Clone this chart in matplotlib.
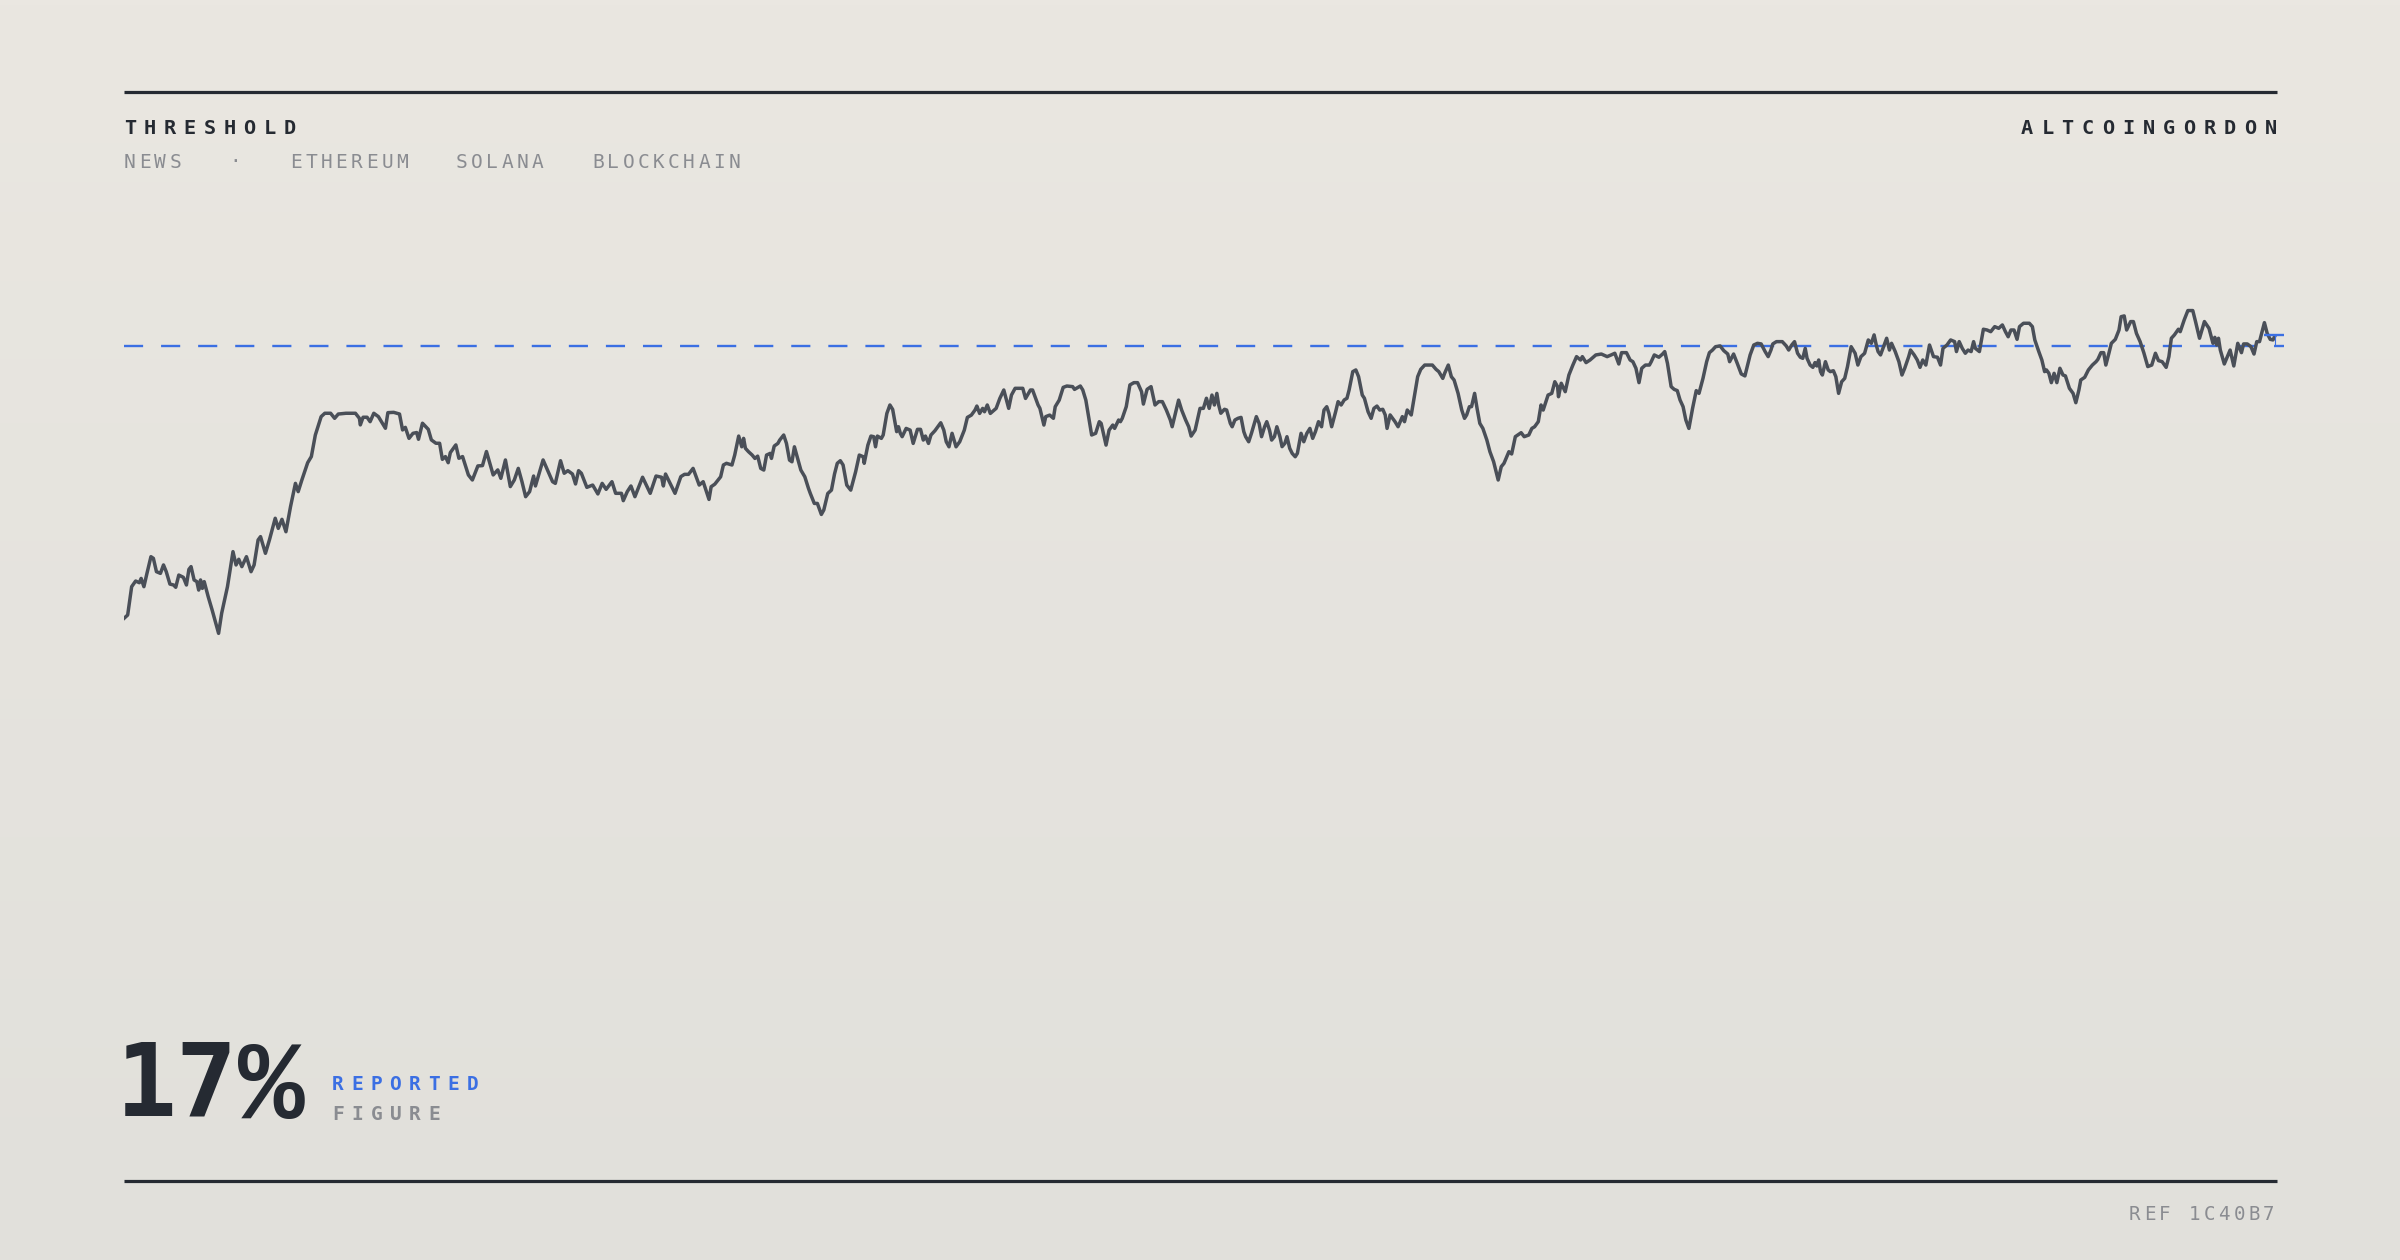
#!/usr/bin/env python3
import numpy as np
import matplotlib
matplotlib.use("Agg")
import matplotlib.pyplot as plt
from matplotlib.lines import Line2D


W, H, DPI = 2400, 1260, 200

INK = "#252a32"
LINE = "#4a4f58"
BLUE = "#3b6fe3"
GREY = "#8a8c91"
BG_TOP = "#eae7e1"
BG_BOTTOM = "#e1e0db"
MONO = ["DejaVu Sans Mono"]

# index level per day in four stretches
early_rise = [
    (0, 56), (1.2, 58.2), (2.5, 76.7), (3.8, 80.4), (5, 79.3), (5.6, 82.1), (6.5, 76.7),
    (7.5, 85.4), (8.8, 96.3), (9.6, 95.2), (10.6, 86.5), (11.9, 85.4), (12.9, 90.9),
    (13.8, 86.5), (15, 78.4), (16.2, 77.8), (16.9, 76.3), (17.9, 84.3), (19.4, 82.8),
    (20.4, 77.8), (21.2, 88), (21.9, 89.8), (22.9, 81.1), (23.8, 80), (24.4, 74.5),
    (25, 81.1), (25.6, 75.6), (26.2, 80), (27.5, 70.2), (28.8, 61.4), (30, 52.7),
    (30.9, 46.2), (31.9, 59.3), (33.8, 76.7), (35.6, 99.6), (36.6, 90.9), (37.5, 94.6),
    (38.5, 89.8), (40, 96.3), (41.5, 86.5), (42.5, 90.9), (43.8, 107.2), (44.6, 109.4),
    (46.2, 98.5), (47.5, 107.2), (49.4, 121.4), (50.4, 114.8), (51.6, 120.7), (52.9, 112.6),
    (54.4, 129), (56, 144.2), (56.9, 138.8), (58.1, 146.4), (60, 157.7), (61.2, 161.7),
    (62.5, 175.8), (64.4, 187.8), (65.6, 190), (67.5, 190), (68.8, 186.7), (70, 189.5),
    (72.5, 190), (75.6, 190), (76.9, 186.7), (77.2, 182.4), (78.1, 187.4), (79.4, 187.4),
    (80.4, 184.5), (81.6, 190), (83.1, 187.8), (85.4, 180.2), (86.2, 190.4), (88.1, 190.6),
    (90, 189.5), (91, 179.1), (91.9, 180.8), (93.1, 173.6), (94.4, 176.9), (95.6, 177.4),
    (96.2, 173), (97.5, 183.5), (99.4, 179.5), (100.4, 172.6), (101.9, 170.4), (103.1, 170.4),
    (104, 159.9), (105, 161.7), (105.9, 157.7), (106.6, 164.3), (108.4, 169.3), (109.4, 160.6),
    (110.6, 161.7), (112.5, 149.7), (113.8, 146.4), (115.6, 155.6), (117.1, 155.8),
    (118.4, 165), (120.6, 149.7), (122.1, 153), (123.1, 147.5), (124.6, 159.5), (126.2, 142.1),
    (127.5, 146.4), (128.8, 154), (130, 145.3), (131.2, 135.5), (132.5, 138.8), (133.8, 149),
    (134.4, 142.5), (136.9, 159.5), (138.1, 154), (140, 145.3), (140.9, 144.2), (142.6, 159),
    (143.8, 150.8), (145, 152.5), (146.5, 150.3), (147.5, 143.8), (148.5, 152.5),
    (149.4, 150.8), (151.2, 141.6), (153.1, 143.1), (154.8, 137.3), (156.2, 144.2),
    (157.5, 140.3), (159.4, 145.3), (160.6, 137.7), (162.5, 137.7), (163.1, 132.9),
    (164.4, 138.8), (165.6, 142.5), (166.9, 135.5), (169.4, 148.2), (171.9, 137.7),
    (173.8, 149), (175.6, 148.2), (176.2, 142.5), (176.9, 150.3), (178.4, 144.2), (180, 137.7),
    (181.9, 148.6), (183.1, 150.1), (184.4, 150.1), (185.9, 154), (187.9, 143.1),
]

mid_range = [
    (189.2, 145.3), (191.1, 133.7), (191.8, 142), (193, 143.7), (194.9, 148.5), (195.8, 156.2),
    (196.8, 157.3), (198.6, 156.2), (199.5, 162.7), (200.8, 175.1), (201.8, 168.1),
    (202.4, 173.6), (203, 167.1), (204, 164.9), (205.2, 162.7), (206.1, 160.5), (207, 162),
    (208, 154), (209, 152.9), (209.9, 162.7), (211.1, 163.8), (211.5, 160.5), (212.4, 168.6),
    (213.6, 170.3), (214.2, 172.5), (215.5, 175.8), (216.4, 170.3), (217.4, 159.4),
    (218.2, 158.3), (219, 168.1), (219.9, 161.6), (221.1, 152.9), (222.4, 148.5),
    (223.6, 140.9), (224.2, 137.6), (225.5, 131.1), (226.5, 131.1), (227.8, 123.9),
    (228.6, 126.8), (229.9, 137.6), (231.1, 139.8), (232.1, 150.3), (233, 157.3), (234, 159),
    (234.9, 156.2), (236.1, 143.1), (237.4, 139.8), (239, 151.8), (240.2, 162.7),
    (241.5, 161.6), (241.8, 157.3), (243, 169.2), (244, 175.1), (244.9, 174.7), (245.5, 168.1),
    (246.1, 175.1), (247.4, 173.6), (248, 175.8), (249.2, 189.9), (250.2, 195.4),
    (251.1, 192.5), (252.4, 178), (253, 181.2), (253.6, 176.9), (254.2, 174.7), (255.5, 180.1),
    (256.8, 179), (257.8, 170.3), (259.2, 179.5), (260.2, 179.5), (261.1, 172.5),
    (261.8, 175.1), (262.8, 170.3), (263.6, 175.8), (264.9, 178.6), (266.8, 183.8),
    (267.8, 179), (268.6, 171.4), (269.5, 168.1), (270.5, 176.9), (271.8, 168.1),
    (273, 171.4), (274.5, 179), (275.5, 187.3), (276.8, 188.8), (278, 192.1), (278.6, 194.7),
    (279.5, 189.9), (280.5, 193.2), (281.1, 191), (282, 195.4), (283, 189.9), (284.9, 193.2),
    (286.1, 199.7), (287.4, 205.2), (289, 193.2), (289.9, 201.9), (291.1, 206.3),
    (293.6, 206.3), (294.5, 199.7), (296.1, 205.2), (296.8, 205.2), (298.6, 195.4),
    (299.2, 193.2), (300.5, 182.3), (301.1, 187.8), (302.4, 188.8), (303.6, 186.7),
    (304.2, 194.3), (305.5, 198.6), (306.8, 206.9), (308, 207.8), (309.9, 207.4),
    (310.5, 205.6), (312.4, 207.8), (313.2, 205.2), (314.2, 198.6), (316.1, 175.8),
    (317.4, 176.9), (318.6, 184.5), (319.2, 183.4), (320.8, 169.2), (321.8, 179), (323, 182.3),
    (323.6, 180.1), (324.9, 185.6), (325.5, 184.5), (326.1, 186.7), (327.4, 194.3),
    (328.6, 208.5), (329.9, 210), (331.1, 210), (332.4, 204.1), (333, 196), (334.2, 205.6),
    (335.5, 207.4), (336.1, 201.9), (336.8, 195.4), (338, 197.6), (339.2, 197.6),
    (340.5, 192.1), (341.8, 185.6), (342.4, 181.2), (343.6, 191), (344.5, 198.6),
    (345.5, 192.1), (346.8, 185.6), (347.8, 181.2), (348.6, 175.1), (349.9, 179),
    (351.5, 193.2),
]

recovery = [
    (352.6, 193.2), (353.6, 199.8), (354.5, 193.2), (355.4, 201.9), (356.2, 195.4), (357, 203),
    (357.6, 195.4), (358.3, 190), (359.5, 192.6), (360.2, 192.1), (361.4, 183.4), (362, 181.2),
    (362.9, 185.6), (363.9, 186.7), (364.9, 187.3), (365.8, 178), (366.4, 174.7),
    (367.4, 171.4), (368.3, 176.9), (369.9, 187.8), (370.8, 183.4), (371.6, 174.7),
    (372.6, 181.2), (373.3, 184.5), (374.2, 179), (374.9, 172.5), (375.8, 174.7),
    (376.6, 181.2), (377.6, 174.7), (378.3, 168.2), (379.2, 170.3), (379.9, 174.7),
    (380.8, 167.1), (381.6, 163.8), (382.6, 161.6), (383.3, 163.8), (384.5, 176.9),
    (385.4, 171.4), (386.4, 176.9), (387.4, 180.1), (388.3, 173.6), (389.2, 178),
    (390.2, 184.5), (391.2, 181.2), (392, 192.1), (392.9, 194.3), (393.6, 190), (394.5, 181.2),
    (395.8, 191), (396.6, 197.6), (397.6, 195.4), (398.6, 198.7), (399.5, 199.8),
    (400.2, 205.2), (401.4, 217.2), (402.4, 218.3), (403.3, 213.9), (404.5, 201.9),
    (405.2, 199.8), (406.4, 191), (407.4, 186.7), (408.3, 193.2), (409.3, 194.7),
    (410.2, 192.1), (411.2, 192.6), (412, 188.9), (412.6, 180.1), (413.6, 188.9),
    (415.2, 184.5), (416.2, 181.2), (417.6, 187.8), (418.3, 184.5), (419.2, 192.1),
    (420.5, 188.9), (421.4, 199.8), (422.6, 213.9), (423.6, 218.7), (424.9, 221.5),
    (427.4, 221.5), (428.6, 218.7), (429.5, 217.2), (430.8, 212.8), (431.4, 216.1),
    (432.6, 221.5), (433.6, 213.9), (434.5, 211.7), (435.8, 203), (437, 192.1), (437.9, 186.7),
    (438.6, 188.9), (439.5, 194.3), (440.2, 194.3), (441.2, 203), (442, 193.2), (442.9, 183.4),
    (443.9, 180.1), (445.2, 172.5), (446.2, 164.9), (447.4, 158.4), (448.9, 146.4),
    (449.9, 155.1), (450.8, 157.3), (452.4, 164.9), (453.3, 163.4), (454.5, 174.7),
    (456.4, 177.3), (457.4, 174.7), (458.9, 175.8), (459.9, 180.1), (460.8, 181.2),
    (462, 184.5), (462.9, 195.4), (463.6, 192.1), (465.2, 201.9), (466.4, 203), (467.4, 210.6),
    (468.3, 207.4), (468.6, 200.8), (469.5, 209.6), (470.8, 204.1), (472, 215), (473.3, 221.5),
    (474.5, 227), (475.8, 224.8), (476.4, 227), (477.6, 223.1), (478.9, 224.8), (480.8, 228.1),
    (482.6, 228.7), (484.5, 227), (485.8, 228.1), (487, 229.2), (488.3, 222.2), (489.2, 229.6),
    (490.8, 229.6), (492, 224.8), (492.9, 223.7), (493.9, 219.4), (494.9, 210), (495.8, 219.4),
    (497, 221.5), (498.3, 221.5), (498.9, 223.7), (499.9, 228.1), (501.4, 226.6),
    (502.6, 228.7), (503.3, 230.3), (504.2, 222.6), (505.4, 207.4), (506.4, 205.6),
    (507.4, 204.8), (508.3, 198.7), (509.3, 194.3), (510.2, 185.6), (511.2, 180.1),
    (512.4, 193.2), (513.6, 204.8), (514.5, 203), (515.8, 212.8), (517, 223.7), (517.9, 229.6),
    (518.9, 231.3), (519.9, 233.5), (521.4, 234), (522.6, 230.9), (523.9, 228.7),
    (524.5, 223.7), (525.8, 228.7), (527, 222.6), (528.3, 215.7), (529.5, 214.4),
    (531.2, 228.1),
]

late_range = [
    (532.4, 234.6), (533.6, 235.7), (534.8, 235.3), (536.1, 230.3), (537.1, 227), (538, 231.3),
    (538.6, 235.3), (539.8, 236.8), (541.7, 236.8), (543, 234), (543.8, 231.3), (544.8, 234.6),
    (545.7, 236.8), (546.7, 229.2), (547.6, 226.6), (548.4, 225.9), (549.2, 232.4),
    (549.8, 225.9), (550.8, 221.5), (551.7, 220), (552.4, 223.1), (553, 220.9), (553.6, 224.8),
    (554.2, 217.2), (554.8, 215), (555.8, 223.7), (556.7, 218.3), (557.4, 217.2),
    (558.4, 217.8), (559.2, 213.9), (560.1, 203), (561.1, 210.6), (562.1, 212.8), (563, 220.4),
    (564.2, 233.5), (565.5, 229.2), (566.4, 221.5), (567.4, 227), (568.6, 229.2),
    (569.8, 237.9), (570.8, 235.7), (571.7, 241.2), (572.4, 234.6), (573, 230.3),
    (573.8, 228.1), (574.8, 233.5), (575.8, 239), (576.7, 231.3), (577.4, 235.7),
    (578.6, 230.3), (579.8, 223.7), (580.8, 215), (581.7, 219.4), (583, 227), (583.6, 231.3),
    (584.8, 228.1), (585.8, 224.8), (586.7, 220), (587.6, 224.8), (588.6, 221.5),
    (589.8, 234.6), (591.1, 227), (592.4, 226.6), (593.4, 221.5), (594.2, 232.4),
    (595.5, 234.6), (596.7, 237.9), (598, 236.8), (598.6, 230.3), (599.5, 236.8),
    (600.5, 232.4), (601.5, 229.2), (602.4, 231.3), (603.4, 230.3), (604.2, 236.8),
    (604.8, 232.4), (606.1, 230.3), (607.4, 244.9), (608.6, 244.4), (609.8, 243.3),
    (611.1, 246.6), (612.4, 245.5), (613.6, 247.7), (614.6, 243.3), (615.5, 240),
    (616.4, 244.4), (617.4, 244.4), (618.4, 238.3), (619.2, 246.6), (620.5, 248.8),
    (622.4, 248.8), (623.4, 246.6), (624.2, 237.9), (625.5, 230.3), (626.5, 224.8),
    (627.4, 217.2), (628, 218.3), (628.8, 216.1), (629.6, 210), (630.5, 216.1), (631.4, 210),
    (632.4, 219.4), (633.4, 215), (634.2, 214.4), (635.5, 206.3), (636.7, 203), (637.6, 196.9),
    (638.6, 205.2), (639.2, 211.7), (640.5, 213.5), (641.7, 218.3), (643, 221.5),
    (644.2, 223.7), (644.8, 225.2), (645.8, 229.6), (646.7, 229.6), (647.4, 221.5),
    (648.4, 229.2), (649.2, 235.7), (650.5, 238.3), (651.7, 244.4), (652.4, 253.1),
    (653.4, 253.6), (654.2, 244.4), (655.5, 249.9), (656.4, 249.9), (657.4, 242.2),
    (658.6, 236.8), (659.8, 229.6), (661.1, 220.5), (662.4, 221.5), (663.6, 229.2),
    (664.6, 224.4), (665.8, 223.7), (667.1, 220), (668, 227), (668.8, 239), (669.8, 241.2),
    (671.1, 244.9), (671.7, 243.3), (673, 251), (674.2, 257.1), (675.8, 257.1), (676.7, 249.9),
    (678, 239), (679.6, 249.9), (681.1, 245.5), (682.4, 235.7), (683, 239.6), (683.6, 234.6),
    (684.2, 239), (684.8, 231.3), (686.1, 222.2), (688, 231.3), (689.2, 220.9), (690.5, 235.7),
    (691.7, 229.6), (692.4, 235.3), (693.6, 235.3), (694.8, 233.5), (695.8, 228.7),
    (696.7, 236.8), (697.6, 236.8), (699.2, 249.2), (700.1, 242.2), (701.1, 238.3),
    (702, 237.9), (702.5, 240),
]

threshold = 234.0
reported_level = 241.0
x_span = (0, 705.6)
y_span = (-363.2, 460.0)

title = "THRESHOLD"
brand = "ALTCOINGORDON"
tags = ["NEWS", "·", "ETHEREUM", "SOLANA", "BLOCKCHAIN"]
tag_x = [124, 229, 290, 456, 592]
headline_num = "17"
headline_sign = "%"
headline_top = "REPORTED"
headline_bottom = "FIGURE"
ref_code = "REF 1C40B7"


def fx(px):
    return px / W


def fy(py):
    return 1 - py / H


def spaced(fig, x, y, text, pitch, **kw):
    # draw one glyph at a time to get the wide tracking
    for i, ch in enumerate(text):
        fig.text(fx(x + i * pitch), fy(y), ch, ha="left", va="baseline",
                 family=MONO, **kw)


def rule(fig, y):
    fig.add_artist(Line2D([fx(124), fx(2277)], [fy(y), fy(y)], color=INK, lw=1.15,
                          solid_capstyle="butt"))


def main():
    fig = plt.figure(figsize=(W / DPI, H / DPI), dpi=DPI)

    bg = fig.add_axes([0, 0, 1, 1], zorder=-10)
    grad = np.linspace(0, 1, 256).reshape(-1, 1)
    cmap = matplotlib.colors.LinearSegmentedColormap.from_list("bg", [BG_TOP, BG_BOTTOM])
    bg.imshow(grad, aspect="auto", cmap=cmap, extent=[0, 1, 0, 1], origin="upper")
    bg.axis("off")

    pts = np.array(early_rise + mid_range + recovery + late_range, dtype=float)
    days, level = pts[:, 0], pts[:, 1]

    ax = fig.add_axes([fx(124), 0, fx(2284) - fx(124), 1])
    ax.set_xlim(*x_span)
    ax.set_ylim(*y_span)
    ax.axis("off")

    ax.axhline(threshold, color=BLUE, lw=0.85, dashes=(8.1, 7.6), zorder=2)
    ax.plot(days, level, color=LINE, lw=1.25, solid_joinstyle="round", zorder=3)
    ax.hlines(reported_level, days[-1] - 3.4, days[-1] + 3.1, color=BLUE, lw=0.85, zorder=4)
    ax.vlines(days[-1], threshold, reported_level, color=BLUE, lw=0.4, zorder=4)

    rule(fig, 92)
    rule(fig, 1181)

    spaced(fig, 124, 134, title, 19.9, size=7.3, weight="bold", color=INK)
    spaced(fig, 2021, 134, brand, 20.3, size=7.3, weight="bold", color=INK)
    for word, x in zip(tags, tag_x):
        spaced(fig, x, 167.5, word, 15.2, size=7.0, color=GREY)

    # big figure: digits in DejaVu mono, the percent sign from Liberation Mono (full height)
    fig.text(fx(116), fy(1116), headline_num, ha="left", va="baseline", family=MONO,
             size=36.5, weight="bold", color=INK)
    fig.text(fx(238), fy(1118), headline_sign, ha="left", va="baseline",
             family=["Liberation Mono"], size=40, weight="bold", color=INK)
    spaced(fig, 332, 1090, headline_top, 19.2, size=7.0, weight="bold", color=BLUE)
    spaced(fig, 332, 1120, headline_bottom, 19.2, size=7.0, weight="bold", color=GREY)
    spaced(fig, 2129, 1220, ref_code, 14.9, size=6.9, color=GREY)

    fig.savefig("out.png", dpi=DPI)


if __name__ == "__main__":
    main()
